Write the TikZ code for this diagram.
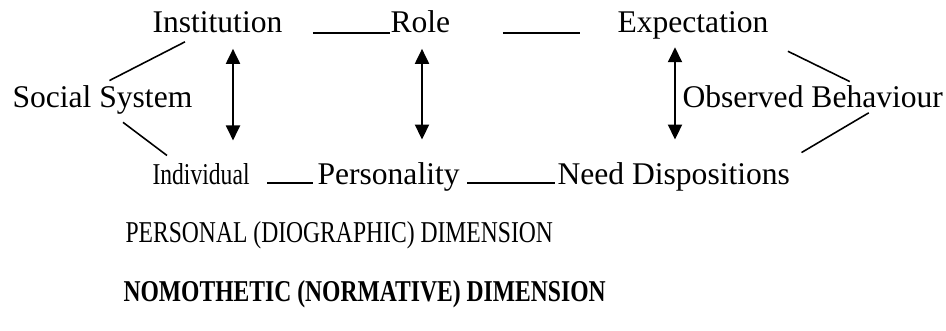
\documentclass[tikz,border=0pt]{standalone}
\usepackage{fontspec}
\setmainfont{Liberation Serif}
\newfontfamily\narrowserif[FakeStretch=0.78]{Liberation Serif}
\usetikzlibrary{arrows.meta,calc}

\begin{document}
\begin{tikzpicture}[x=0.38pt,y=-0.38pt,
  term/.style={inner sep=0pt,anchor=base west,font=\fontsize{12}{14}\selectfont},
  smallterm/.style={term,font=\narrowserif\fontsize{11.5}{13}\selectfont},
  link/.style={line width=0.6pt},
  slant/.style={line width=0.6pt},
  both/.style={{Triangle[width=5.3pt,length=5.7pt]}-{Triangle[width=5.3pt,length=5.7pt]},
               line width=0.8pt},
  dimtext/.style={term,font=\narrowserif\fontsize{11.5}{13}\selectfont}
]
\useasboundingbox (0,0) rectangle (946,331);

% Top row (nomothetic)
\node[term] (inst) at (152,33) {Institution};
\node[term] (role) at (390,33) {Role};
\node[term] (expe) at (617,33) {Expectation};

% Side labels
\node[term] (soc) at (12,108) {Social System};
\node[term] (obs) at (682,108) {Observed Behaviour};

% Bottom row (idiographic)
\node[smallterm] (indi) at (152,185) {Individual};
\node[term] (pers) at (317,185) {Personality};
\node[term] (need) at (557,185) {Need Dispositions};

% Dimension captions
\node[dimtext] (pdim) at (125,243) {PERSONAL (DIOGRAPHIC) DIMENSION};
\node[dimtext,font=\narrowserif\fontsize{11.5}{13}\selectfont\bfseries] (ndim) at (123,301)
  {NOMOTHETIC (NORMATIVE) DIMENSION};

% Horizontal links
\draw[link,shorten <=11.4pt] (inst.base east) -- (role.base west);
\draw[link,shorten <=19.8pt,shorten >=14pt] (role.base east) -- (expe.base west);
\draw[link,shorten <=6.5pt,shorten >=1.5pt] ($(indi.base east)+(0,-2)$) -- ($(pers.base west)+(0,-2)$);
\draw[link,shorten <=2.7pt,shorten >=0.8pt] ($(pers.base east)+(0,-2)$) -- ($(need.base west)+(0,-2)$);

% Slanted links
\draw[slant] ($(soc.north)+(7,-5)$) -- ($(inst.south west)+(33,8)$);
\draw[slant] ($(soc.south west)+(111,7)$) -- ($(indi.north west)+(15,-8)$);
\draw[slant] ($(expe.south east)+(19,11)$) -- ($(obs.north)+(37,-4)$);
\draw[slant] ($(need.north east)+(11,-10)$) -- ($(obs.south)+(56,4)$);

% Vertical arrows
\draw[both] ($(inst.south west)+(81,15)$) -- ($(indi.north west)+(81,-23)$);
\draw[both] ($(role.south west)+(32,15)$) -- ($(pers.north west)+(105,-23)$);
\draw[both] ($(expe.south west)+(58,7)$) -- ($(need.north west)+(118,-23)$);

\end{tikzpicture}
\end{document}
